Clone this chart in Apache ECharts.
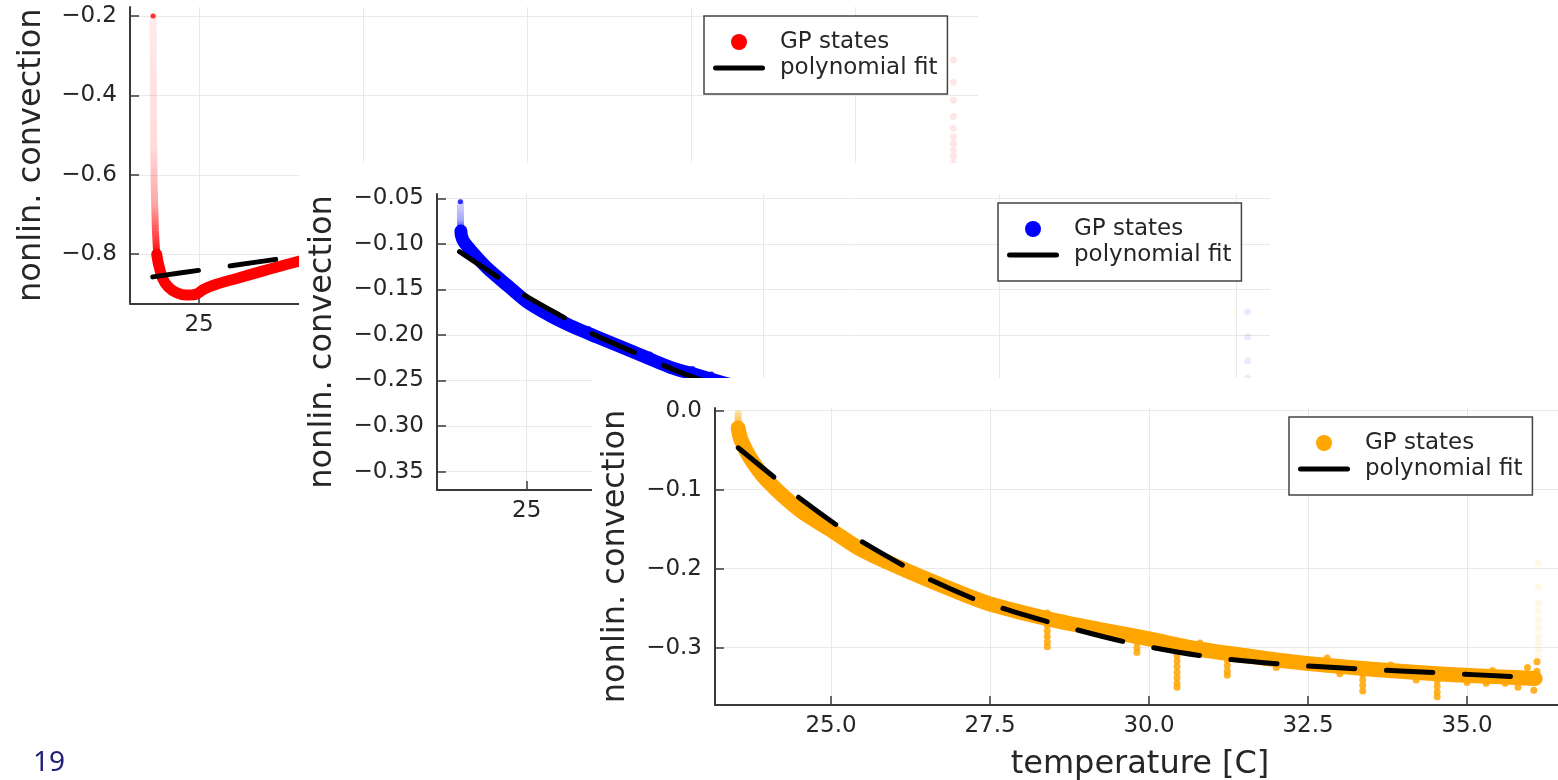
<!DOCTYPE html>
<html>
<head>
<meta charset="utf-8">
<script src="https://cdn.jsdelivr.net/npm/echarts@6/dist/echarts.min.js"></script>
<style>
html, body { margin: 0; padding: 0; width: 1558px; height: 780px; overflow: hidden; background: #fff; }
#red { position: absolute; left: 0; top: 0; width: 1558px; height: 780px; }
#blue { position: absolute; left: 299px; top: 163px; width: 990px; height: 380px; background: #fff; }
#orange { position: absolute; left: 592px; top: 378px; width: 990px; height: 402px; background: #fff; }
</style>
</head>
<body>
<div id="red"></div>
<div id="blue"></div>
<div id="orange"></div>
<script>
// red panel (back)
const redTicksX = [25, 30, 35, 40, 45];
const redTicksY = [-0.8, -0.6, -0.4, -0.2];
const redTail = [[23.60, -0.20], [23.61, -0.45], [23.63, -0.62], [23.67, -0.74], [23.71, -0.80]];
const redTip = [[23.60, -0.20]];
const redBand = [[23.71, -0.80], [23.76, -0.823], [23.89, -0.861], [24.06, -0.882], [24.32, -0.897],
  [24.62, -0.903], [24.93, -0.900], [25.13, -0.889], [25.44, -0.878], [26.15, -0.861], [26.96, -0.842],
  [27.98, -0.819], [30, -0.78], [33, -0.735], [36, -0.70], [40, -0.665], [44, -0.64], [47.9, -0.62]];
const redEnd = [[48.0, -0.311], [48.0, -0.366], [48.0, -0.412], [48.0, -0.453], [48.0, -0.483], [48.0, -0.504],
  [48.0, -0.521], [48.0, -0.538], [48.0, -0.554], [48.0, -0.571], [48.0, -0.59], [48.0, -0.61]];
const redFit = [[23.59, -0.857], [25.13, -0.839], [25.98, -0.829], [27.52, -0.811], [30, -0.786], [34, -0.752],
  [38, -0.725], [42, -0.703], [46, -0.688], [48, -0.683]];

// blue panel (middle)
const blueTicksX = [25, 30, 35, 40];
const blueTicksY = [-0.35, -0.30, -0.25, -0.20, -0.15, -0.10, -0.05];
const blueTail = [[23.60, -0.054], [23.60, -0.075], [23.61, -0.086]];
const blueTip = [[23.60, -0.0537]];
const blueBand = [[23.61, -0.086], [23.62, -0.091], [23.67, -0.0976], [23.9, -0.112], [24.17, -0.1268],
  [24.6, -0.146], [25.0, -0.1635], [25.5, -0.179], [25.93, -0.190], [26.5, -0.2025], [26.99, -0.2129],
  [27.5, -0.224], [28.04, -0.2355], [28.6, -0.244], [29.2, -0.253], [30, -0.262], [32, -0.28],
  [35, -0.30], [38, -0.315], [40.2, -0.325]];
const blueNoise = [[27.6, -0.222], [28.5, -0.238], [28.9, -0.244], [26.3, -0.194]];
const blueEnd = [[40.24, -0.1745], [40.24, -0.2019], [40.24, -0.2283], [40.24, -0.2476], [40.24, -0.262]];
const blueFit = [[23.58, -0.1086], [24.46, -0.1389], [24.97, -0.1569], [25.88, -0.1836], [26.40, -0.199],
  [27.36, -0.2211], [27.91, -0.2338], [28.5, -0.246], [29.2, -0.257], [31, -0.278], [34, -0.30],
  [37, -0.315], [40.2, -0.322]];

// orange panel (front)
const orangeTicksX = [25, 27.5, 30, 32.5, 35];
const orangeTicksY = [-0.3, -0.2, -0.1, 0];
const orangeTail = [[23.54, -0.004], [23.54, -0.014], [23.54, -0.022]];
const orangeBand = [[23.54, -0.022], [23.585, -0.037], [23.73, -0.060], [23.99, -0.0877], [24.51, -0.1257],
  [25.0, -0.151], [25.5, -0.177], [26.19, -0.2025], [26.98, -0.229], [27.5, -0.2447], [28.44, -0.264],
  [29.23, -0.277], [30.0, -0.289], [30.8, -0.302], [31.59, -0.311], [32.37, -0.319], [33.16, -0.325],
  [33.95, -0.330], [34.73, -0.334], [35.52, -0.337], [36.07, -0.339]];
const orangeNoise = [
  [28.40, -0.256], [28.40, -0.272], [28.40, -0.279], [28.40, -0.286], [28.40, -0.293], [28.40, -0.299],
  [29.81, -0.293], [29.81, -0.300], [29.81, -0.306],
  [30.44, -0.303], [30.44, -0.310], [30.44, -0.317], [30.44, -0.324], [30.44, -0.331], [30.44, -0.338],
  [30.44, -0.345], [30.44, -0.350],
  [30.80, -0.294], [31.23, -0.316], [31.23, -0.323], [31.23, -0.330], [31.23, -0.335],
  [32.0, -0.325], [32.8, -0.313], [33.0, -0.333], [33.8, -0.322],
  [33.36, -0.334], [33.36, -0.341], [33.36, -0.348], [33.36, -0.355],
  [34.2, -0.341], [34.53, -0.342], [34.53, -0.349], [34.53, -0.356], [34.53, -0.362],
  [35.0, -0.344], [35.3, -0.345], [35.4, -0.329], [35.6, -0.345], [35.8, -0.350], [35.95, -0.325],
  [36.05, -0.354], [36.1, -0.318], [36.1, -0.330], [36.1, -0.342]];
const orangeEnd = [[36.12, -0.193], [36.12, -0.223], [36.12, -0.244], [36.12, -0.254], [36.12, -0.265],
  [36.12, -0.275], [36.12, -0.286], [36.12, -0.294], [36.12, -0.303], [36.12, -0.312]];
const orangeFit = [[23.54, -0.047], [24.14, -0.0865], [24.48, -0.109], [25.11, -0.146], [25.49, -0.166],
  [26.18, -0.198], [26.56, -0.214], [27.30, -0.240], [27.69, -0.25], [28.44, -0.268], [29.64, -0.293],
  [30.88, -0.311], [32.11, -0.321], [33.33, -0.327], [34.58, -0.332], [35.77, -0.337]];

const FONT = 'DejaVu Sans';
const TXT = '#262626';
const AXIS = '#3a3a3a';
const GRIDC = '#e9e9e9';
const FIT_ICON = 'path://M2.5,0H49.5A2.5,2.5,0,0,1,49.5,5H2.5A2.5,2.5,0,0,1,2.5,0Z';

function fmt(v, d) {
  return v.toFixed(d).replace('-', '\u2212');
}

function grad(rgb, stops) {
  return new echarts.graphic.LinearGradient(0, 0, 0, 1,
    stops.map(s => ({ offset: s[0], color: 'rgba(' + rgb + ',' + s[1] + ')' })));
}

function panel(c) {
  return {
    animation: false,
    grid: Object.assign({ outerBoundsMode: 'none', containLabel: false }, c.grid),
    xAxis: {
      type: 'value', min: c.xMin, max: c.xMax,
      name: c.xName || '', nameLocation: 'middle', nameGap: 44, nameMoveOverlap: false,
      nameTextStyle: { fontFamily: FONT, fontSize: 32, color: TXT },
      axisLine: { show: true, onZero: false, lineStyle: { color: AXIS, width: 2 } },
      axisTick: { show: true, inside: true, length: 9, customValues: c.xTicks, lineStyle: { color: AXIS, width: 1.5 } },
      axisLabel: { customValues: c.xTicks, margin: 10, fontFamily: FONT, fontSize: 23, color: TXT,
        formatter: v => fmt(v, c.xDigits) },
      splitLine: { show: true, lineStyle: { color: GRIDC, width: 1 } }
    },
    yAxis: {
      type: 'value', min: c.yMin, max: c.yMax,
      name: 'nonlin. convection', nameLocation: 'middle', nameGap: c.nameGap, nameMoveOverlap: false,
      nameTextStyle: { fontFamily: FONT, fontSize: 32, color: TXT },
      axisLine: { show: true, onZero: false, lineStyle: { color: AXIS, width: 2 } },
      axisTick: { show: true, inside: true, length: 9, customValues: c.yTicks, lineStyle: { color: AXIS, width: 1.5 } },
      axisLabel: { customValues: c.yTicks, margin: 13, fontFamily: FONT, fontSize: 23, color: TXT,
        formatter: v => fmt(v, c.yDigits) },
      splitLine: { show: true, lineStyle: { color: GRIDC, width: 1 } }
    },
    legend: {
      left: c.legLeft, top: c.legTop, orient: 'vertical',
      padding: [13, 10, 13, 9], itemGap: 0, itemWidth: 52, itemHeight: 16,
      borderColor: '#444', borderWidth: 1.5, backgroundColor: '#fff', borderRadius: 0,
      selectedMode: false,
      textStyle: { fontFamily: FONT, fontSize: 23, color: TXT, lineHeight: 26, padding: [0, 0, 0, 10] },
      data: [
        { name: 'GP states', icon: 'circle', itemStyle: { color: c.color } },
        { name: 'polynomial fit', icon: FIT_ICON, itemStyle: { color: '#000' } }
      ]
    },
    graphic: c.graphic || [],
    series: [
      { type: 'line', data: c.tail, symbol: 'none', silent: true,
        lineStyle: { width: 7, cap: 'round', color: c.tailColor } },
      { name: 'GP states', type: 'line', data: c.band, symbol: 'none', smooth: 0.3, silent: true,
        itemStyle: { color: c.color },
        lineStyle: { width: c.bandWidth, color: c.color, cap: 'round', join: 'round' } },
      { type: 'scatter', data: c.noise || [], symbolSize: 7, silent: true,
        itemStyle: { color: c.color, opacity: 0.85 } },
      { type: 'scatter', data: c.tip || [], symbolSize: 5, silent: true, itemStyle: { color: c.color } },
      { type: 'scatter', data: c.end, symbolSize: 7, silent: true, itemStyle: { color: c.endColor } },
      { name: 'polynomial fit', type: 'line', data: c.fit, symbol: 'none', smooth: 0.3, silent: true, z: 5,
        itemStyle: { color: '#000' },
        lineStyle: { width: 5, color: '#000', type: [46, 32], cap: 'round' } }
    ]
  };
}

const redChart = echarts.init(document.getElementById('red'));
redChart.setOption(panel({
  grid: { left: 130, top: 7, right: 580, bottom: 476.7 },
  xMin: 22.896, xMax: 48.75, yMin: -0.9236, yMax: -0.1773,
  xTicks: redTicksX, yTicks: redTicksY, xDigits: 0, yDigits: 1, nameGap: 82,
  legLeft: 704, legTop: 16, color: '#ff0000', bandWidth: 11,
  tail: redTail, tip: redTip, band: redBand, end: redEnd, fit: redFit,
  tailColor: grad('255,0,0', [[0, 0.08], [0.55, 0.14], [0.78, 0.35], [0.92, 0.75], [1, 1]]),
  endColor: 'rgba(255,0,0,0.12)',
  graphic: [{ type: 'text', left: 33, top: 749,
    style: { text: '19', fontSize: 28, fontFamily: 'Noto Sans', fill: '#1f1f78' } }]
}));

const blueChart = echarts.init(document.getElementById('blue'));
blueChart.setOption(panel({
  grid: { left: 138, top: 31, right: 19, bottom: 53 },
  xMin: 23.104, xMax: 40.715, yMin: -0.3702, yMax: -0.04528,
  xTicks: blueTicksX, yTicks: blueTicksY, xDigits: 0, yDigits: 2, nameGap: 98,
  legLeft: 699, legTop: 40, color: '#0000ff', bandWidth: 13,
  tail: blueTail, tip: blueTip, band: blueBand, noise: blueNoise, end: blueEnd, fit: blueFit,
  tailColor: grad('0,0,255', [[0, 0.12], [0.6, 0.35], [1, 1]]),
  endColor: 'rgba(0,0,255,0.1)'
}));

const orangeChart = echarts.init(document.getElementById('orange'));
orangeChart.setOption(panel({
  grid: { left: 123, top: 30, right: 17, bottom: 75 },
  xMin: 23.176, xMax: 36.54, yMin: -0.3726, yMax: 0.0034,
  xTicks: orangeTicksX, yTicks: orangeTicksY, xDigits: 1, yDigits: 1, nameGap: 83,
  xName: 'temperature [C]',
  legLeft: 697, legTop: 39, color: '#ffa500', bandWidth: 15,
  tail: orangeTail, band: orangeBand, noise: orangeNoise, end: orangeEnd, fit: orangeFit,
  tailColor: grad('255,165,0', [[0, 0.3], [1, 1]]),
  endColor: 'rgba(255,165,0,0.12)'
}));
</script>
</body>
</html>
